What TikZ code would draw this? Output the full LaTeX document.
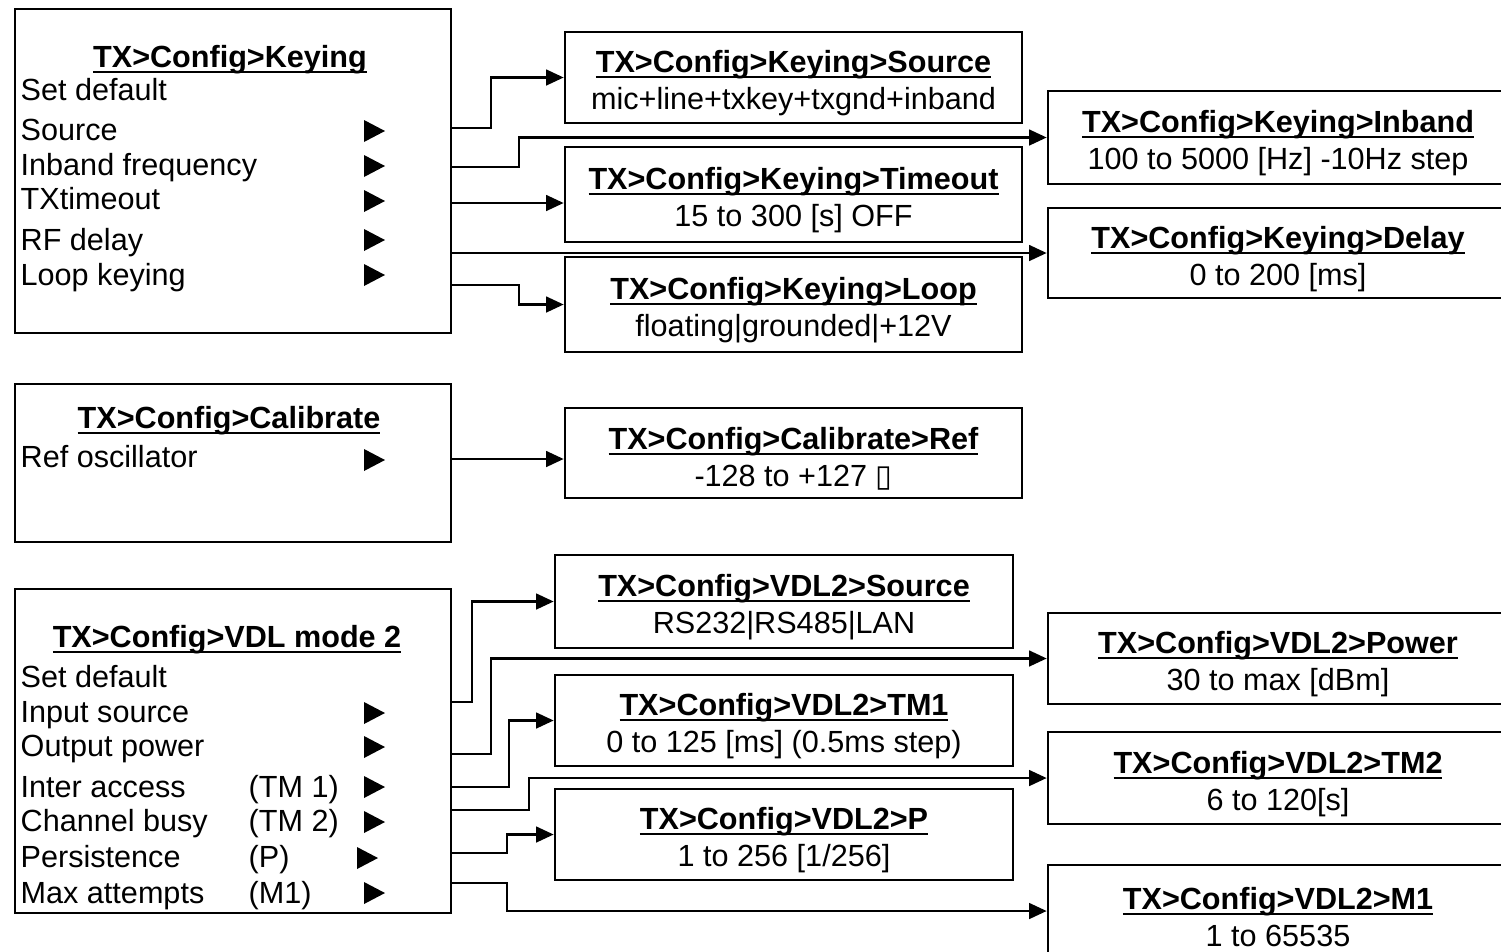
\documentclass[tikz,border=0pt]{standalone}
\usepackage{fontspec}
\setmainfont{Liberation Sans}
\newfontfamily\symfont{DejaVu Sans}
\usetikzlibrary{arrows.meta}

\newcommand{\menutitle}[1]{\rule{0pt}{9.5pt}\setbox0\hbox{\bfseries #1}\rlap{\rule[-1.6pt]{\wd0}{0.6pt}}\box0}

\begin{document}
\begin{tikzpicture}[x=0.01cm, y=-0.01cm,
    txt/.style={font=\fontsize{8.7}{10.5}\selectfont},
    menu/.style={draw, line width=0.7pt, minimum width=4.36cm, inner sep=0pt},
    leaf/.style={draw, line width=0.7pt, txt, align=center, inner sep=0pt, minimum width=4.57cm},
    item/.style={txt, anchor=base west, inner sep=0pt},
    head/.style={txt, anchor=base, inner sep=0pt},
    link/.style={line width=0.6pt, -{Triangle[length=5pt,width=4.5pt]}}]

    %frame
    \fill[white] (0,0) rectangle (1501,951);
    \useasboundingbox (0,0) rectangle (1501,951);
    \clip (0,0) rectangle (1501,951);

    %menus (left)
    \node[menu, minimum height=3.24cm] (kbox) at (233,171) {};
    \node[menu, minimum height=1.58cm] (cbox) at (233,463) {};
    \node[menu, minimum height=3.24cm] (vbox) at (233,751) {};

    \node[head] (ktitle) at (230,67) {\menutitle{TX>Config>Keying}};
    \node[head] (ctitle) at (229,428) {\menutitle{TX>Config>Calibrate}};
    \node[head] (vtitle) at (227,647) {\menutitle{TX>Config>VDL mode 2}};

    %menu items
    \node[item] (kdef) at (20,100) {Set default};
    \node[item] (ksrc) at (20,140) {Source};
    \node[item] (kinb) at (20,175) {Inband frequency};
    \node[item] (ktim) at (20,209) {TXtimeout};
    \node[item] (kdel) at (20,250) {RF delay};
    \node[item] (klop) at (20,285) {Loop keying};

    \node[item] (cref) at (20,467) {Ref oscillator};

    \node[item] (vdef) at (20,687) {Set default};
    \node[item] (vsrc) at (20,722) {Input source};
    \node[item] (vpow) at (20,756) {Output power};
    \node[item] (vacc) at (20,797) {Inter access};
    \node[item] (vbsy) at (20,831) {Channel busy};
    \node[item] (vper) at (20,867) {Persistence};
    \node[item] (vatt) at (20,903) {Max attempts};
    \node[item] (vacctag) at (248,797) {(TM 1)};
    \node[item] (vbsytag) at (248,831) {(TM 2)};
    \node[item] (vpertag) at (248,867) {(P)};
    \node[item] (vatttag) at (248,903) {(M1)};

    %submenu pointers
    \foreach \y in {131,166,201,240,275,460,713,747,787,822,893}
        \fill (364,\y-11) -- (385,\y) -- (364,\y+11) -- cycle;
    \fill (357,847) -- (378,858) -- (357,869) -- cycle;

    %value boxes
    \node[leaf, minimum height=0.91cm] (ksource) at (793.5,77.5) {\menutitle{TX>Config>Keying>Source}\\mic+line+txkey+txgnd+inband};
    \node[leaf, minimum height=0.95cm] (ktimeout) at (793.5,194.5) {\menutitle{TX>Config>Keying>Timeout}\\15 to 300 [s] OFF};
    \node[leaf, minimum height=0.95cm] (kloop) at (793.5,304.5) {\menutitle{TX>Config>Keying>Loop}\\floating|grounded|+12V};
    \node[leaf, minimum width=4.6cm, minimum height=0.93cm] (kinband) at (1278,137.5) {\menutitle{TX>Config>Keying>Inband}\\100 to 5000 [Hz] -10Hz step};
    \node[leaf, minimum width=4.6cm, minimum height=0.90cm] (kdelay) at (1278,253) {\menutitle{TX>Config>Keying>Delay}\\0 to 200 [ms]};

    \node[leaf, minimum height=0.90cm] (cvalue) at (793.5,453) {\menutitle{TX>Config>Calibrate>Ref}\\-128 to +127 {\symfont ▯}};

    \node[leaf, minimum width=4.58cm, minimum height=0.93cm] (vsource) at (784,601.5) {\menutitle{TX>Config>VDL2>Source}\\RS232|RS485|LAN};
    \node[leaf, minimum width=4.58cm, minimum height=0.91cm] (vtm1) at (784,720.5) {\menutitle{TX>Config>VDL2>TM1}\\0 to 125 [ms] (0.5ms step)};
    \node[leaf, minimum width=4.58cm, minimum height=0.91cm] (vp) at (784,834.5) {\menutitle{TX>Config>VDL2>P}\\1 to 256 [1/256]};
    \node[leaf, minimum width=4.6cm, minimum height=0.91cm] (vpower) at (1278,658.5) {\menutitle{TX>Config>VDL2>Power}\\30 to max [dBm]};
    \node[leaf, minimum width=4.6cm, minimum height=0.92cm] (vtm2) at (1278,778) {\menutitle{TX>Config>VDL2>TM2}\\6 to 120[s]};
    \node[leaf, minimum width=4.6cm, minimum height=0.92cm] (vm1) at (1278,911) {\menutitle{TX>Config>VDL2>M1}\\1 to 65535};

    %connectors
    \draw[link] (kbox.east |- 0,128) -- ++(39,0) |- (ksource.west);
    \draw[link] (kbox.east |- 0,167) -- ++(67,0) |- (kinband.west);
    \draw[link] (kbox.east |- 0,203) -- (ktimeout.west |- 0,203);
    \draw[link] (kbox.east |- kdelay.west) -- (kdelay.west);
    \draw[link] (kbox.east |- 0,285) -- ++(67,0) |- (kloop.west);

    \draw[link] (cbox.east |- 0,459) -- (cvalue.west |- 0,459);

    \draw[link] (vbox.east |- 0,702) -- ++(20,0) |- (vsource.west);
    \draw[link] (vbox.east |- 0,754) -- ++(39,0) |- (vpower.west);
    \draw[link] (vbox.east |- 0,787) -- ++(57,0) |- (vtm1.west);
    \draw[link] (vbox.east |- 0,810) -- ++(77,0) |- (vtm2.west);
    \draw[link] (vbox.east |- 0,853) -- ++(55,0) |- (vp.west);
    \draw[link] (vbox.east |- 0,883) -- ++(55,0) |- (vm1.west);
\end{tikzpicture}
\end{document}
